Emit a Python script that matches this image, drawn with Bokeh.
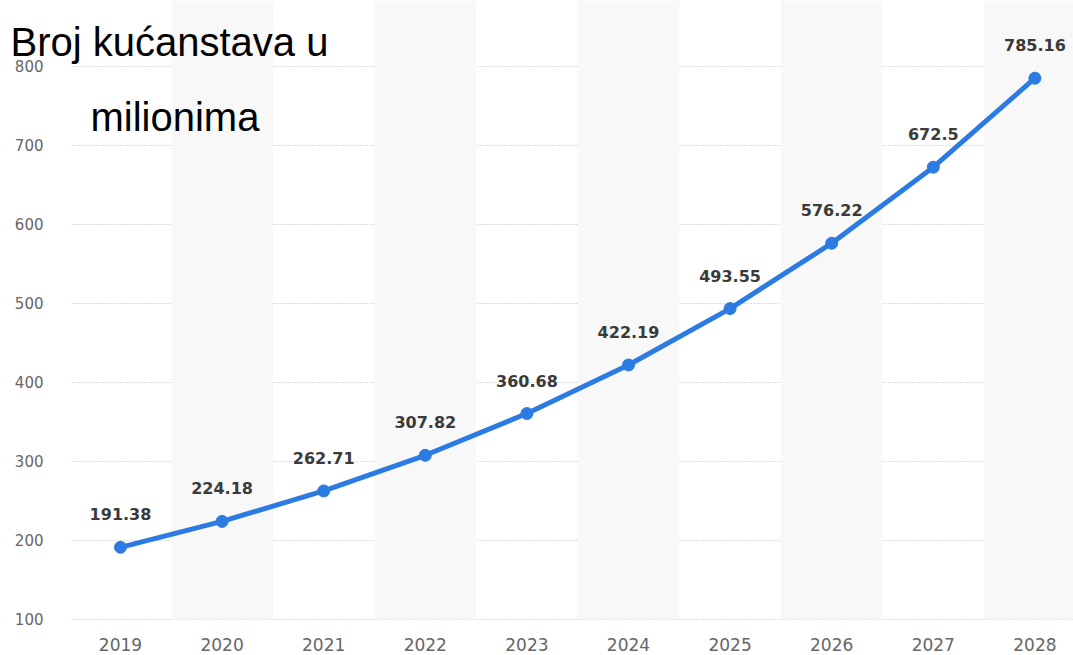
from bokeh.plotting import figure
from bokeh.models import Range1d, BoxAnnotation, Label, FixedTicker, ColumnDataSource
from bokeh.core.properties import value
from bokeh.embed import file_html
from bokeh.resources import INLINE

years = [2019, 2020, 2021, 2022, 2023, 2024, 2025, 2026, 2027, 2028]
households = [191.38, 224.18, 262.71, 307.82, 360.68, 422.19, 493.55, 576.22, 672.5, 785.16]
labels = ["191.38", "224.18", "262.71", "307.82", "360.68", "422.19", "493.55", "576.22", "672.5", "785.16"]
y_ticks = [100, 200, 300, 400, 500, 600, 700, 800]
title_line1 = "Broj kućanstava u"
title_line2 = "milionima"

BLUE = "#2b7be2"
X_START, X_END = 2017.819, 2028.38
AXIS_X = 2018.508
Y_START, Y_END = 88.6, 883.5

p = figure(width=1073, height=655, output_backend="svg", toolbar_location=None,
           x_range=Range1d(X_START, X_END), y_range=Range1d(Y_START, Y_END),
           min_border_left=0, min_border_right=0, min_border_top=0, min_border_bottom=27)
p.outline_line_color = None
p.background_fill_color = "white"
p.border_fill_color = "white"

for yr in years[1::2]:
    p.add_layout(BoxAnnotation(left=yr - 0.5, right=yr + 0.5, bottom=y_ticks[0],
                               fill_color="#f8f8f8", fill_alpha=1, line_color=None,
                               level="underlay"))
# white margin to the left of the plotting area (covers grid lines)
p.add_layout(BoxAnnotation(right=AXIS_X, fill_color="white", fill_alpha=1,
                           line_color=None, level="glyph"))

src = ColumnDataSource(dict(x=years, y=households, t=labels))
p.line("x", "y", source=src, line_color=BLUE, line_width=5)
p.scatter("x", "y", source=src, size=12, fill_color=BLUE, line_color=BLUE)
p.text("x", "y", text="t", source=src, text_align="center", text_baseline="alphabetic",
       y_offset=-33, text_font=value("DejaVu Sans"), text_font_style="bold",
       text_font_size="16px", text_color="#3a3a3a")

p.xaxis.ticker = FixedTicker(ticks=years)
p.yaxis.ticker = FixedTicker(ticks=y_ticks)
p.yaxis.fixed_location = AXIS_X
for ax in (p.xaxis[0], p.yaxis[0]):
    ax.axis_line_color = None
    ax.major_tick_line_color = None
    ax.minor_tick_line_color = None
    ax.major_label_text_font = "DejaVu Sans"
    ax.major_label_text_color = "#666666"
p.xaxis.major_label_standoff = 3
p.xaxis.major_label_text_font_size = "17px"
p.yaxis.major_label_text_font_size = "15px"
p.yaxis.major_label_standoff = 21

p.xgrid.grid_line_color = None
p.ygrid.ticker = FixedTicker(ticks=y_ticks)
p.ygrid.grid_line_color = "#bbbbbb"
p.ygrid.grid_line_dash = "1 2"
p.ygrid.grid_line_width = 1

p.add_layout(Label(x=10, y=41, x_units="canvas", y_units="canvas", text=title_line1,
                   text_font="Liberation Sans", text_font_size="40px", text_color="#000000",
                   text_baseline="alphabetic"))
p.add_layout(Label(x=90, y=116, x_units="canvas", y_units="canvas", text=title_line2,
                   text_font="Liberation Sans", text_font_size="40px", text_color="#000000",
                   text_baseline="alphabetic"))

open("out.html", "w").write(file_html(p, INLINE))
